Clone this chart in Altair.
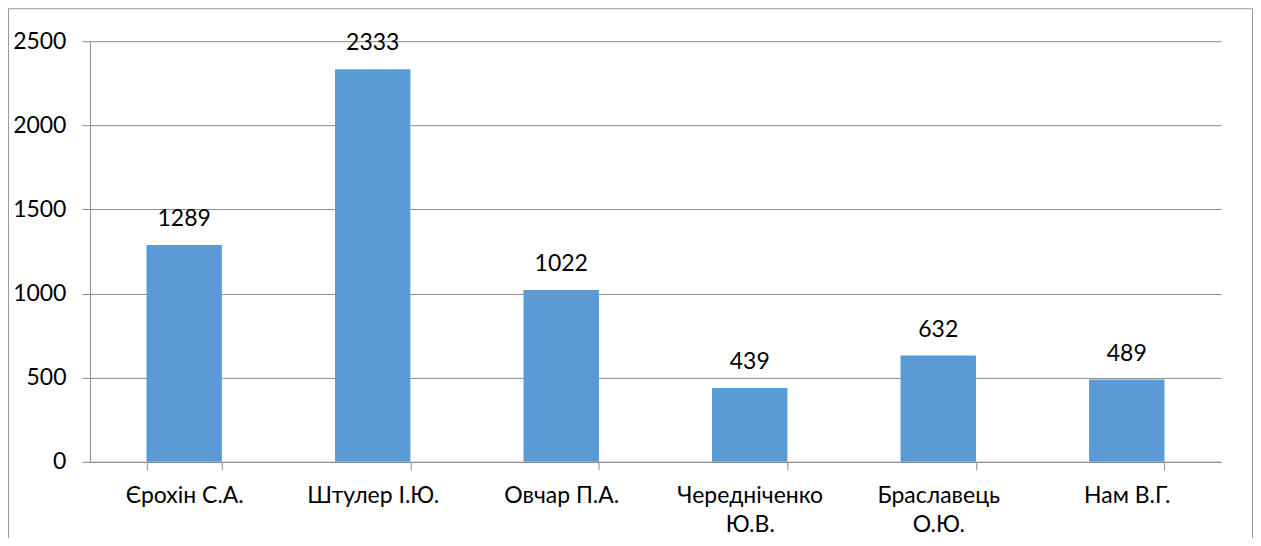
import altair as alt
import pandas as pd

names = ["Єрохін С.А.", "Штулер І.Ю.", "Овчар П.А.", "Чередніченко Ю.В.", "Браславець О.Ю.", "Нам В.Г."]
values = [1289, 2333, 1022, 439, 632, 489]

df = pd.DataFrame({"name": names, "value": values})

FONT = "Lato"
GRAY = "#8c8c8c"
BAR = "#5B9BD5"
FS = 23

x = alt.X(
    "name:N",
    sort=names,
    title=None,
    scale=alt.Scale(paddingInner=0.6, paddingOuter=0.3),
    axis=alt.Axis(
        labelAngle=0,
        labelExpr="length(datum.label) > 12 ? split(datum.label, ' ') : datum.label",
        labelLineHeight=29,
        labelPadding=15,
        labelFontSize=FS,
        labelFont=FONT,
        labelColor="#000000",
        tickBand="extent",
        tickSize=8,
        tickColor=GRAY,
        domainColor=GRAY,
        grid=False,
        labelBaseline="top",
    ),
)
y = alt.Y(
    "value:Q",
    title=None,
    scale=alt.Scale(domain=[0, 2500], nice=False),
    axis=alt.Axis(
        values=[0, 500, 1000, 1500, 2000, 2500],
        format="d",
        tickSize=8,
        tickColor=GRAY,
        domainColor=GRAY,
        gridColor=GRAY,
        grid=True,
        labelPadding=16,
        labelFontSize=FS,
        labelFont=FONT,
        labelColor="#000000",
    ),
)

bars = alt.Chart(df).mark_bar(color=BAR).encode(x=x, y=y)
labels = alt.Chart(df).mark_text(
    font=FONT, fontSize=FS, color="#000000", baseline="alphabetic", dy=-19
).encode(x=x, y=y, text=alt.Text("value:Q"))

border = alt.Chart(alt.Data(values=[{"a": 1}])).mark_rect(
    fill=None, stroke="#999999", strokeWidth=1
).encode(
    x=alt.value(-81.5), x2=alt.value(1163.5), y=alt.value(-32.5), y2=alt.value(600)
)

chart = alt.layer(bars, labels, border).properties(
    width=1132,
    height=421,
    autosize=alt.AutoSizeParams(type="none"),
    padding={"left": 82, "top": 33, "right": 32, "bottom": 76},
).configure_view(stroke=None)

chart.save("out.html", embed_options={"renderer": "svg", "actions": False})
